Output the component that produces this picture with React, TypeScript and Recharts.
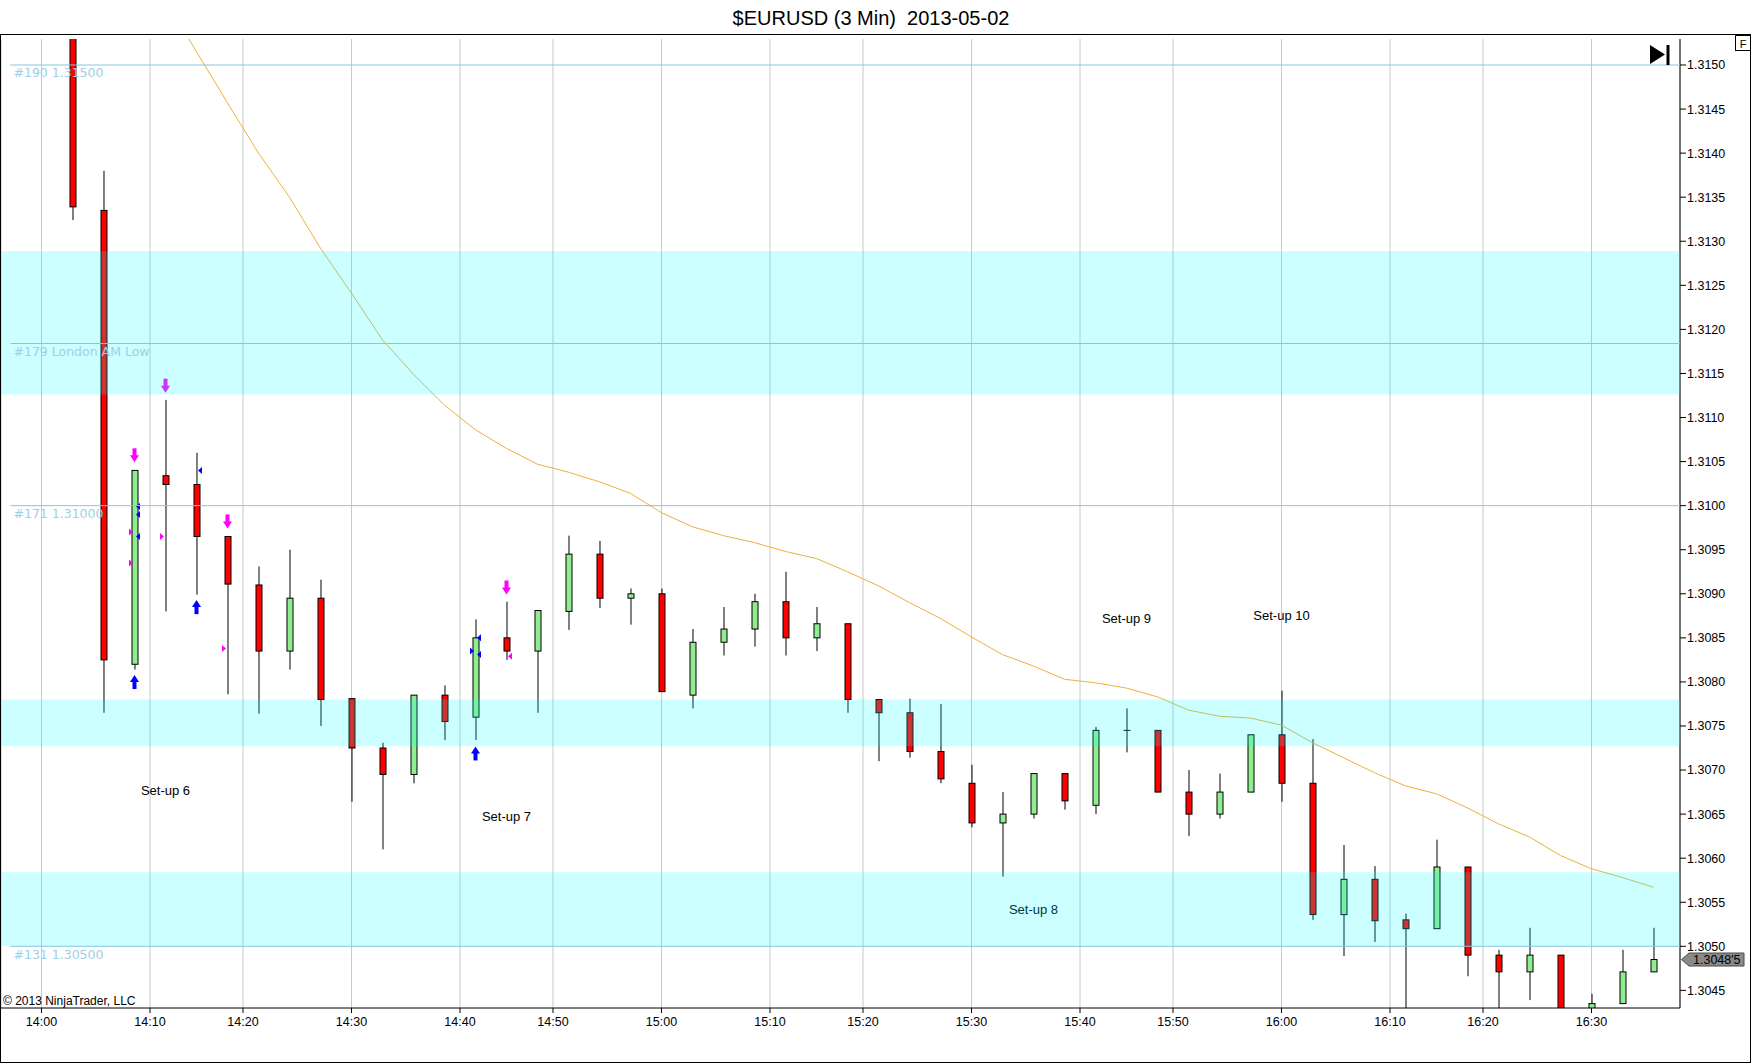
import React from 'react';
import {
  ComposedChart,
  Bar,
  Line,
  Scatter,
  XAxis,
  YAxis,
  CartesianGrid,
  ReferenceLine,
  ReferenceArea,
} from 'recharts';

// ---------- data ----------
const barIndex = [
  1, 2, 3, 4, 5, 6, 7, 8, 9, 10, 11, 12, 13, 14, 15, 16, 17, 18, 19, 20, 21, 22, 23, 24, 25, 26,
  27, 28, 29, 30, 31, 32, 33, 34, 35, 36, 37, 38, 39, 40, 41, 42, 43, 44, 45, 46, 47, 48, 49, 50,
  51, 52,
];

const opens = [
  1.316, 1.31335, 1.3082, 1.31034, 1.31024, 1.30965, 1.3091, 1.30835, 1.30895, 1.30781,
  1.30725, 1.30695, 1.30785, 1.3076, 1.3085, 1.30835, 1.3088, 1.30945, 1.30895, 1.309,
  1.30785, 1.30845, 1.3086, 1.30891, 1.3085, 1.30866, 1.3078, 1.30765, 1.30721, 1.30685,
  1.3064, 1.3065, 1.30696, 1.3066, 1.30745, 1.30745, 1.30675, 1.3065, 1.30675, 1.3074,
  1.30685, 1.30536, 1.30576, 1.3053, 1.3052, 1.3059, 1.3049, 1.30471, 1.3049, 1.3042,
  1.30435, 1.30471,
];
const highs = [
  1.3162, 1.3138, 1.3104, 1.3112, 1.3106, 1.30965, 1.30931, 1.3095, 1.30916, 1.30781,
  1.30731, 1.30785, 1.30796, 1.30871, 1.30891, 1.30881, 1.30966, 1.3096, 1.30906, 1.30906,
  1.3086, 1.30885, 1.309, 1.30925, 1.30885, 1.30866, 1.3078, 1.30781, 1.30775, 1.30706,
  1.30675, 1.30696, 1.30696, 1.30749, 1.3077, 1.30745, 1.307, 1.30696, 1.3074, 1.3079,
  1.30735, 1.30615, 1.30591, 1.30537, 1.30621, 1.3059, 1.30496, 1.30521, 1.3049, 1.30446,
  1.30496, 1.30521,
];
const lows = [
  1.31324, 1.30765, 1.30814, 1.3088, 1.30899, 1.30786, 1.30764, 1.30814, 1.3075, 1.30664,
  1.3061, 1.30685, 1.30734, 1.30734, 1.30825, 1.30765, 1.30859, 1.30884, 1.30865, 1.30789,
  1.3077, 1.3083, 1.3084, 1.3083, 1.30835, 1.30765, 1.3071, 1.30714, 1.30685, 1.30635,
  1.30579, 1.30645, 1.30655, 1.3065, 1.3072, 1.30675, 1.30625, 1.30645, 1.30675, 1.30664,
  1.3053, 1.30489, 1.30505, 1.304, 1.3052, 1.30466, 1.30415, 1.30439, 1.304, 1.30415,
  1.30435, 1.30471,
];
const closes = [
  1.31339, 1.30825, 1.3104, 1.31024, 1.30965, 1.30911, 1.30835, 1.30895, 1.3078, 1.30725,
  1.30695, 1.30785, 1.30755, 1.3085, 1.30835, 1.30881, 1.30945, 1.30895, 1.309, 1.30789,
  1.30845, 1.3086, 1.30891, 1.3085, 1.30866, 1.3078, 1.30765, 1.30721, 1.3069, 1.3064,
  1.3065, 1.30696, 1.30665, 1.30745, 1.30745, 1.30675, 1.3065, 1.30675, 1.3074, 1.30685,
  1.30536, 1.30576, 1.30529, 1.3052, 1.3059, 1.3049, 1.30471, 1.3049, 1.3041, 1.30435,
  1.30471, 1.30485,
];
const emaValues: (number | null)[] = [
  null, null, 1.31625, 1.31575, 1.31515, 1.31457, 1.314, 1.3135, 1.31292, 1.31241,
  1.31188, 1.31149, 1.31114, 1.31086, 1.31065, 1.31047, 1.31038, 1.31027, 1.31014, 1.30992,
  1.30976, 1.30966, 1.30958, 1.30948, 1.3094, 1.30925, 1.30909, 1.3089, 1.30872, 1.30851,
  1.30831, 1.30818, 1.30803, 1.30799, 1.30793, 1.30783, 1.30768, 1.30761, 1.30759, 1.30751,
  1.30731, 1.30714, 1.30697, 1.30682, 1.30673, 1.30657, 1.30639, 1.30624, 1.30603, 1.30588,
  1.30578, 1.30567,
];

// time axis: bar index of each label (between bars when the time falls between two 3-min bars)
const timeTickIndex = [0, 3.5, 6.5, 10, 13.5, 16.5, 20, 23.5, 26.5, 30, 33.5, 36.5, 40, 43.5, 46.5, 50];
const timeTickLabels = [
  '14:00', '14:10', '14:20', '14:30', '14:40', '14:50', '15:00', '15:10', '15:20', '15:30',
  '15:40', '15:50', '16:00', '16:10', '16:20', '16:30',
];
const priceTicks = [
  1.3045, 1.305, 1.3055, 1.306, 1.3065, 1.307, 1.3075, 1.308, 1.3085, 1.309, 1.3095, 1.31,
  1.3105, 1.311, 1.3115, 1.312, 1.3125, 1.313, 1.3135, 1.314, 1.3145, 1.315,
];

// horizontal level lines
const levelPrices = [1.315, 1.31184, 1.31, 1.305];
const levelLabels = ['#190 1.31500', '#179 London AM Low', '#171 1.31000', '#131 1.30500'];

// shaded zones
const zoneTops = [1.31289, 1.3078, 1.30584];
const zoneBottoms = [1.31126, 1.30727, 1.305];

// signal markers
const downArrows = [
  { idx: 3, price: 1.31056 },
  { idx: 4, price: 1.31135 },
  { idx: 6, price: 1.30981 },
  { idx: 15, price: 1.30906 },
];
const upArrows = [
  { idx: 3, price: 1.30801 },
  { idx: 5, price: 1.30886 },
  { idx: 14, price: 1.3072 },
];
const blueTriangles = [
  { idx: 3, price: 1.30999, side: 'R' },
  { idx: 3, price: 1.3099, side: 'R' },
  { idx: 3, price: 1.30965, side: 'R' },
  { idx: 5, price: 1.3104, side: 'R' },
  { idx: 14, price: 1.3085, side: 'R' },
  { idx: 14, price: 1.30835, side: 'L' },
  { idx: 14, price: 1.30831, side: 'R' },
];
const magentaTriangles = [
  { idx: 3, price: 1.3097, side: 'L' },
  { idx: 3, price: 1.30935, side: 'L' },
  { idx: 4, price: 1.30965, side: 'L' },
  { idx: 6, price: 1.30838, side: 'L' },
  { idx: 15, price: 1.30829, side: 'R' },
];

const setupLabels = [
  { idx: 4, price: 1.30677, text: 'Set-up 6' },
  { idx: 15, price: 1.30647, text: 'Set-up 7' },
  { idx: 32, price: 1.30542, text: 'Set-up 8' },
  { idx: 35, price: 1.30872, text: 'Set-up 9' },
  { idx: 40, price: 1.30875, text: 'Set-up 10' },
];

const rows = barIndex.map((idx, i) => ({
  idx,
  o: opens[i],
  h: highs[i],
  l: lows[i],
  c: closes[i],
  range: [lows[i], highs[i]],
  ema: emaValues[i],
}));

const lastClose = closes[closes.length - 1];

const X_DOMAIN: [number, number] = [-1.30645, 52.85484];
const Y_DOMAIN: [number, number] = [1.3043, 1.315295];

// ---------- styling ----------
const FONT = "'Liberation Sans', Arial, sans-serif";
const LEVEL_COLOR = '#88c6dc';
const LEVEL_TEXT = '#9ccfe8';

const Candle = (props: any) => {
  const { x, y, width, height, payload } = props;
  if (!payload) return null;
  const { o, h, l, c } = payload;
  const cx = x + width / 2;
  const top = Math.min(y, y + height);
  const bot = Math.max(y, y + height);
  const span = h - l || 1;
  const py = (p: number) => top + ((h - p) / span) * (bot - top);
  const bt = py(Math.max(o, c));
  const bb = py(Math.min(o, c));
  const doji = o === c;
  const up = c > o;
  return (
    <g>
      <line x1={cx} x2={cx} y1={top} y2={bot} stroke="#000" strokeWidth={1} />
      {doji ? (
        <line x1={cx - 3.5} x2={cx + 3.5} y1={bt} y2={bt} stroke="#000" strokeWidth={1} />
      ) : (
        <rect
          x={cx - 3}
          y={bt}
          width={6}
          height={Math.max(1, bb - bt)}
          fill={up ? '#90ee90' : '#ff0000'}
          stroke="#000"
          strokeWidth={1}
        />
      )}
    </g>
  );
};

const DownArrow = (props: any) => {
  const { cx, cy } = props;
  return (
    <g fill="#ff00ff">
      <rect x={cx - 2} y={cy - 8} width={4} height={8} />
      <polygon points={`${cx - 4.5},${cy - 1} ${cx + 4.5},${cy - 1} ${cx},${cy + 6}`} />
    </g>
  );
};

const UpArrow = (props: any) => {
  const { cx, cy } = props;
  return (
    <g fill="#0000ff">
      <rect x={cx - 2} y={cy} width={4} height={8} />
      <polygon points={`${cx - 4.5},${cy + 1} ${cx + 4.5},${cy + 1} ${cx},${cy - 6}`} />
    </g>
  );
};

const makeTriangle = (color: string) => (props: any) => {
  const { cx, cy, payload } = props;
  if (payload.side === 'R') {
    return <polygon fill={color} points={`${cx + 1.5},${cy} ${cx + 5.5},${cy - 3.5} ${cx + 5.5},${cy + 3.5}`} />;
  }
  return <polygon fill={color} points={`${cx - 1.5},${cy} ${cx - 5.5},${cy - 3.5} ${cx - 5.5},${cy + 3.5}`} />;
};
const BlueTri = makeTriangle('#0000ff');
const MagentaTri = makeTriangle('#ff00ff');

const SetupText = (props: any) => {
  const { cx, cy, payload } = props;
  return (
    <text x={cx} y={cy + 4.5} textAnchor="middle" fontSize={13} fontFamily={FONT} fill="#000">
      {payload.text}
    </text>
  );
};

const LevelTag = (props: any) => {
  const { viewBox, text } = props;
  if (!viewBox) return null;
  return (
    <text
      x={viewBox.x + 3}
      y={viewBox.y + 12.5}
      fill={LEVEL_TEXT}
      fontSize={12.5}
      fontFamily="'DejaVu Sans', Verdana, sans-serif"
    >
      {text}
    </text>
  );
};

const PriceTag = (props: any) => {
  const { viewBox, value } = props;
  if (!viewBox) return null;
  const x0 = viewBox.x + viewBox.width;
  const y = viewBox.y;
  const s = Number(value).toFixed(5);
  const txt = `${s.slice(0, 6)}'${s.slice(6)}`;
  return (
    <g>
      <polygon
        points={`${x0 + 1.5},${y} ${x0 + 9},${y - 6.5} ${x0 + 64},${y - 6.5} ${x0 + 64},${y + 6.5} ${x0 + 9},${y + 6.5}`}
        fill="#8a8a8a"
        stroke="#4a4a4a"
        strokeWidth={1}
      />
      <text x={x0 + 13} y={y + 4.5} fontSize={12.5} fontFamily={FONT} fill="#000">
        {txt}
      </text>
    </g>
  );
};

const timeFormatter = (v: number) => {
  const k = timeTickIndex.indexOf(v);
  return k >= 0 ? timeTickLabels[k] : '';
};

export default function App() {
  return (
    <div
      style={{
        position: 'absolute',
        left: 0,
        top: 0,
        width: 1752,
        height: 1064,
        background: '#fff',
        fontFamily: FONT,
      }}
    >
      <ComposedChart
        width={1752}
        height={1064}
        data={rows}
        margin={{ top: 39, right: 0, bottom: 0, left: 1 }}
      >
        <CartesianGrid vertical horizontal={false} stroke="#c8c8c8" strokeWidth={1} />
        <XAxis
          type="number"
          dataKey="idx"
          domain={X_DOMAIN}
          allowDataOverflow
          ticks={timeTickIndex}
          tickFormatter={timeFormatter}
          interval={0}
          height={56}
          tickSize={5}
          tickMargin={4}
          stroke="#000"
          tick={{ fill: '#000', fontSize: 12.5, fontFamily: FONT }}
        />
        <YAxis
          orientation="right"
          type="number"
          domain={Y_DOMAIN}
          allowDataOverflow
          ticks={priceTicks}
          interval={0}
          tickFormatter={(v: number) => v.toFixed(4)}
          width={72}
          tickSize={6}
          tickMargin={1}
          stroke="#000"
          tick={{ fill: '#000', fontSize: 12.5, fontFamily: FONT }}
        />
        <Bar dataKey="range" barSize={6} shape={<Candle />} isAnimationActive={false} />
        <Line
          dataKey="ema"
          type="linear"
          stroke="#f0b03c"
          strokeWidth={1}
          dot={false}
          activeDot={false}
          isAnimationActive={false}
        />
        <ReferenceLine y={lastClose} stroke="none" label={<PriceTag value={lastClose} />} />
        <Scatter data={downArrows} dataKey="price" shape={DownArrow} isAnimationActive={false} />
        <Scatter data={upArrows} dataKey="price" shape={UpArrow} isAnimationActive={false} />
        <Scatter data={blueTriangles} dataKey="price" shape={BlueTri} isAnimationActive={false} />
        <Scatter data={magentaTriangles} dataKey="price" shape={MagentaTri} isAnimationActive={false} />
        <Scatter data={setupLabels} dataKey="price" shape={SetupText} isAnimationActive={false} />
      </ComposedChart>

      {/* translucent zones and level lines drawn over the candles, on the same scales */}
      <div style={{ position: 'absolute', left: 0, top: 0, pointerEvents: 'none' }}>
        <ComposedChart
          width={1752}
          height={1064}
          data={rows}
          margin={{ top: 39, right: 72, bottom: 56, left: 1 }}
        >
          <XAxis type="number" dataKey="idx" domain={X_DOMAIN} allowDataOverflow hide />
          <YAxis type="number" domain={Y_DOMAIN} allowDataOverflow hide />
          {zoneTops.map((t, i) => (
            <ReferenceArea
              key={`z${i}`}
              y1={zoneBottoms[i]}
              y2={t}
              fill="#00ffff"
              fillOpacity={0.2}
              stroke="none"
            />
          ))}
          {levelPrices.map((p, i) => (
            <ReferenceLine
              key={`l${i}`}
              segment={[
                { x: -1.0, y: p },
                { x: 52.85, y: p },
              ]}
              stroke={LEVEL_COLOR}
              strokeWidth={1}
              label={<LevelTag text={levelLabels[i]} />}
            />
          ))}
        </ComposedChart>
      </div>

      <svg
        width={1752}
        height={1064}
        style={{ position: 'absolute', left: 0, top: 0, pointerEvents: 'none' }}
      >
        <rect x={0.5} y={34.5} width={1750} height={1028} fill="none" stroke="#000" strokeWidth={1} />
        <text
          x={871}
          y={25}
          textAnchor="middle"
          fontSize={20}
          fontFamily={FONT}
          fill="#000"
          style={{ whiteSpace: 'pre' }}
        >
          {'$EURUSD (3 Min)  2013-05-02'}
        </text>
        <text x={3} y={1004.5} fontSize={12} fontFamily={FONT} fill="#000">
          © 2013 NinjaTrader, LLC
        </text>
        <rect x={1735.5} y={35.5} width={15} height={15} fill="#fff" stroke="#000" strokeWidth={1} />
        <text x={1743} y={47.5} textAnchor="middle" fontSize={11} fontFamily={FONT} fill="#000">
          F
        </text>
        <polygon points="1650,45 1650,64 1665,54.5" fill="#000" />
        <rect x={1666.5} y={45} width={3} height={20} fill="#000" />
      </svg>
    </div>
  );
}
